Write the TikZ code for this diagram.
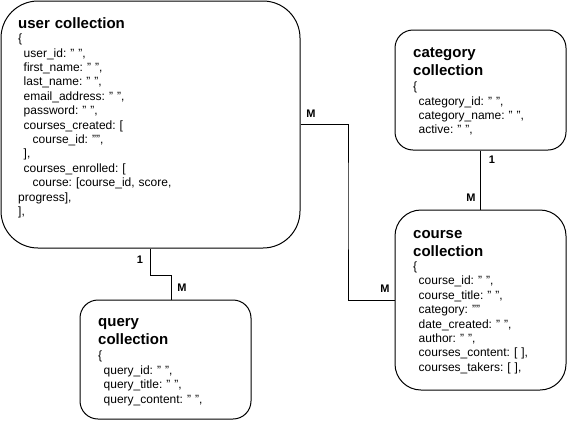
\documentclass[tikz,border=0pt]{standalone}
\usepackage{fontspec}
\setmainfont{Liberation Sans}

\begin{document}
\begin{tikzpicture}[x=1pt,y=-1pt]
  \tikzset{
    coll/.style={draw,line width=1pt,rounded corners=#1,inner sep=0pt},
    link/.style={line width=1pt},
    title/.style={anchor=base west,inner sep=0pt,text width=150pt,align=left,
      font=\bfseries\fontsize{15}{18}\selectfont},
    body/.style={anchor=base west,inner sep=0pt,text width=200pt,align=left,
      font=\frenchspacing\fontsize{12}{14.4}\selectfont},
    card/.style={inner sep=0pt,font=\bfseries\fontsize{11}{13}\selectfont}
  }
  \useasboundingbox (0,0) rectangle (576,421);

  % collections
  \node[coll=37,minimum width=299pt,minimum height=247pt] (user) at (150.5,124.5) {};
  \node[coll=18,minimum width=171pt,minimum height=120pt] (category) at (480.5,90) {};
  \node[coll=26,minimum width=171pt,minimum height=180pt] (course) at (480.5,300) {};
  \node[coll=18,minimum width=171pt,minimum height=119pt] (query) at (165.5,359.5) {};

  \node[title] (usertitle) at (18,28) {user collection};
  \node[body] (userbody) at (18,42.6) {\{\\
    \hspace*{5.5pt}user\_id: " ",\\
    \hspace*{5.5pt}first\_name: " ",\\
    \hspace*{5.5pt}last\_name: " ",\\
    \hspace*{5.5pt}email\_address: " ",\\
    \hspace*{5.5pt}password: " ",\\
    \hspace*{5.5pt}courses\_created: [\\
    \hspace*{14.5pt}course\_id: "",\\
    \hspace*{5.5pt}],\\
    \hspace*{5.5pt}courses\_enrolled: [\\
    \hspace*{14.5pt}course: [course\_id, score,\\
    progress],\\
    ],};

  \node[title] (categorytitle) at (413,57.5) {category\\collection};
  \node[body] (categorybody) at (413,90.6) {\{\\
    \hspace*{5.5pt}category\_id: " ",\\
    \hspace*{5.5pt}category\_name: " ",\\
    \hspace*{5.5pt}active: " ",};

  \node[title] (coursetitle) at (413,238.3) {course\\collection};
  \node[body] (coursebody) at (413,270.5) {\{\\
    \hspace*{5.5pt}course\_id: " ",\\
    \hspace*{5.5pt}course\_title: " ",\\
    \hspace*{5.5pt}category: ""\\
    \hspace*{5.5pt}date\_created: " ",\\
    \hspace*{5.5pt}author: " ",\\
    \hspace*{5.5pt}courses\_content: [ ],\\
    \hspace*{5.5pt}courses\_takers: [ ],};

  \node[title] (querytitle) at (98,326.7) {query\\collection};
  \node[body] (querybody) at (98,359.8) {\{\\
    \hspace*{5.5pt}query\_id: " ",\\
    \hspace*{5.5pt}query\_title: " ",\\
    \hspace*{5.5pt}query\_content: " ",};

  % relations
  \coordinate (uqbend) at (171,275);
  \draw[link] (user.south) |- (uqbend) -- (uqbend |- query.north);
  \coordinate (ucbend) at (348,200);
  \draw[link] (user.east) -| (ucbend) |- (course.west);
  \draw[link] (category.south) -- (course.north);

  \node[card] (uqone) at (140,260) {1};
  \node[card] (uqmany) at (182,288) {M};
  \node[card] (ucmanyA) at (311,114) {M};
  \node[card] (ucmanyB) at (385,289) {M};
  \node[card] (ccone) at (492,160) {1};
  \node[card] (ccmany) at (471,198) {M};
\end{tikzpicture}
\end{document}
